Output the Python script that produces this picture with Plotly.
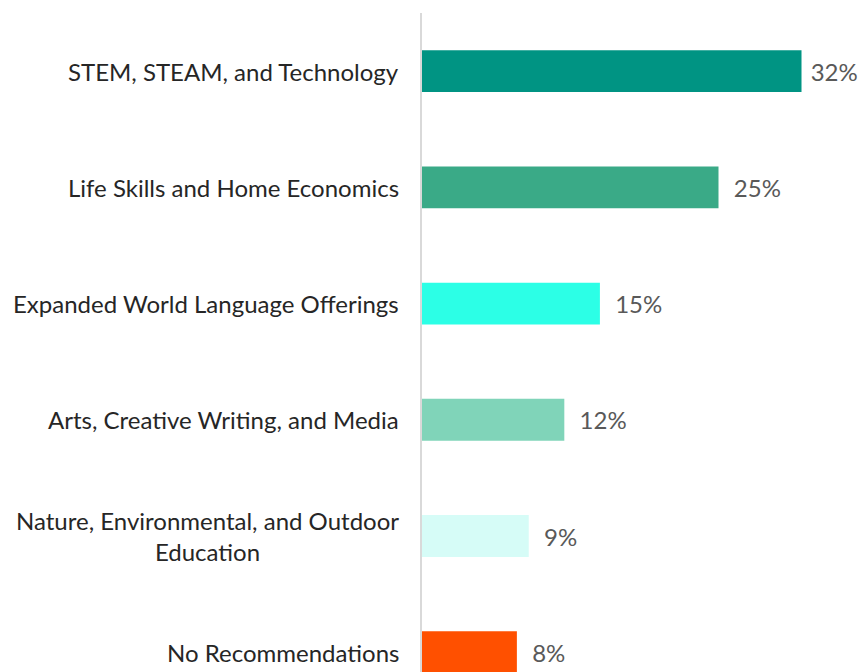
import plotly.graph_objects as go

# Survey results: recommended course additions
categories = [
    "STEM, STEAM, and Technology",
    "Life Skills and Home Economics",
    "Expanded World Language Offerings",
    "Arts, Creative Writing, and Media",
    "Nature, Environmental, and Outdoor<br>Education",
    "No Recommendations",
]
values = [32, 25, 15, 12, 9, 8]
bar_colors = ["#009483", "#3aaa87", "#2cffe6", "#80d4b9", "#d6fcf7", "#ff5000"]

# the longest bar's label is squeezed against the right edge
labels = [("\u00a0" if v == max(values) else "\u00a0\u00a0") + f"{v}%" for v in values]

fig = go.Figure(go.Bar(
    x=values,
    y=list(range(len(categories))),
    orientation="h",
    marker=dict(color=bar_colors, line=dict(width=0)),
    width=0.36,
    text=labels,
    textposition="outside",
    cliponaxis=False,
    textfont=dict(family="Lato", size=24, color="#595959"),
    hoverinfo="skip",
))

# category labels drawn as annotations so the wrapped one can be centred
for i, cat in enumerate(categories):
    fig.add_annotation(
        x=0, xref="x", y=i, yref="y",
        text=cat, showarrow=False,
        xanchor="right", xshift=-21, align="center",
        font=dict(family="Lato", size=24, color="#262626"),
    )

fig.update_layout(
    width=862, height=672,
    margin=dict(l=422, r=0, t=13, b=0),
    paper_bgcolor="white", plot_bgcolor="white",
    showlegend=False,
    uniformtext=dict(mode=False),
    xaxis=dict(range=[0, 37.1], visible=False, fixedrange=True, automargin=False),
    yaxis=dict(range=[5.17, -0.5], showticklabels=False, showgrid=False,
               zeroline=False, showline=True, linecolor="#d9d9d9", linewidth=2,
               ticks="", automargin=False, fixedrange=True),
)

# drop the default page margin so the figure sits at the window's corner
fig.write_html("out.html", config={"displayModeBar": False},
               post_script="document.body.style.margin='0';document.body.style.overflow='hidden';")
